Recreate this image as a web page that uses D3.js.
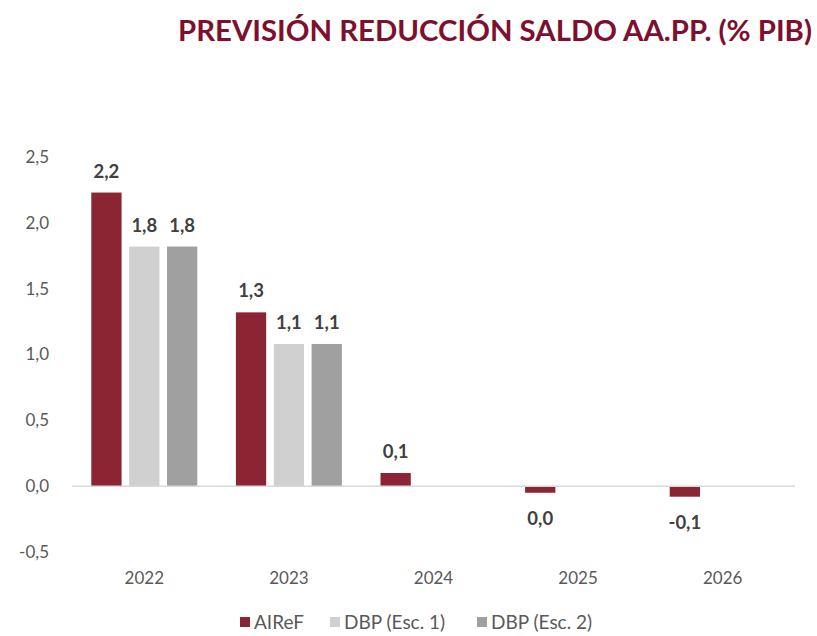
<!DOCTYPE html>
<html>
<head>
<meta charset="utf-8">
<script src="https://cdn.jsdelivr.net/npm/d3@7"></script>
<style>
  body { margin: 0; background: #fff; }
  svg { display: block; font-family: Lato, "Open Sans", sans-serif; }
</style>
</head>
<body>
<div id="chart"></div>
<script>
// Data
const years = ["2022", "2023", "2024", "2025", "2026"];
const seriesNames = ["AIReF", "DBP (Esc. 1)", "DBP (Esc. 2)"];
const colors = ["#8b2433", "#d0d0d0", "#a0a0a0"];
const airef = [2.23, 1.32, 0.10, -0.05, -0.08];
const dbp1 = [1.82, 1.08, null, null, null];
const dbp2 = [1.82, 1.08, null, null, null];
const labelsAiref = ["2,2", "1,3", "0,1", "0,0", "-0,1"];
const labelsDbp1 = ["1,8", "1,1", null, null, null];
const labelsDbp2 = ["1,8", "1,1", null, null, null];
const yTicks = [-0.5, 0, 0.5, 1, 1.5, 2, 2.5];

const series = [
  { name: seriesNames[0], values: airef, labels: labelsAiref },
  { name: seriesNames[1], values: dbp1, labels: labelsDbp1 },
  { name: seriesNames[2], values: dbp2, labels: labelsDbp2 },
];

const width = 817, height = 636;
const margin = { top: 157, right: 22, bottom: 84, left: 72 };

const svg = d3.select("#chart").append("svg")
  .attr("width", width)
  .attr("height", height);

// Title
svg.append("text")
  .attr("x", 812)
  .attr("y", 41)
  .attr("text-anchor", "end")
  .attr("fill", "#7d0f2f")
  .attr("font-size", 28)
  .attr("font-weight", 700)
  .attr("textLength", 634)
  .attr("lengthAdjust", "spacingAndGlyphs")
  .text("PREVISIÓN REDUCCIÓN SALDO AA.PP. (% PIB)");

// Scales
const x = d3.scaleBand()
  .domain(years)
  .range([margin.left, width - margin.right]);

const xSub = d3.scaleBand()
  .domain(seriesNames)
  .range([x.bandwidth() / 2 - 53, x.bandwidth() / 2 + 53])
  .paddingInner(0.2);

const y = d3.scaleLinear()
  .domain([-0.5, 2.5])
  .range([height - margin.bottom, margin.top]);

// Y axis labels
const gY = svg.append("g")
  .attr("transform", `translate(${margin.left - 20},0)`)
  .call(d3.axisLeft(y).tickValues(yTicks).tickSize(0)
    .tickFormat((d) => d3.format(".1f")(d).replace(".", ",").replace("−", "-")));
gY.select(".domain").remove();
gY.selectAll("text")
  .attr("fill", "#595959")
  .attr("font-size", 17)
  .attr("font-family", "Lato, 'Open Sans', sans-serif");

// Bars
const groups = svg.append("g").selectAll("g")
  .data(years)
  .join("g")
  .attr("transform", (d) => `translate(${x(d)},0)`);

groups.each(function (yr, i) {
  const g = d3.select(this);
  series.forEach((s, j) => {
    const v = s.values[i];
    if (v == null) return;
    g.append("rect")
      .attr("x", xSub(s.name))
      .attr("width", xSub.bandwidth())
      .attr("y", y(Math.max(0, v)))
      .attr("height", Math.abs(y(v) - y(0)))
      .attr("fill", colors[j]);
    g.append("text")
      .attr("x", xSub(s.name) + xSub.bandwidth() / 2)
      .attr("y", v >= 0 ? y(v) - 15 : y(v) + 32)
      .attr("text-anchor", "middle")
      .attr("fill", "#404040")
      .attr("font-size", 18.5)
      .attr("font-weight", 700)
      .text(s.labels[i]);
  });
});

// Zero line
svg.append("line")
  .attr("x1", margin.left)
  .attr("x2", width - margin.right)
  .attr("y1", y(0))
  .attr("y2", y(0))
  .attr("stroke", "#d9d9d9")
  .attr("stroke-width", 1.5);

// X axis labels
svg.append("g").selectAll("text")
  .data(years)
  .join("text")
  .attr("x", (d) => x(d) + x.bandwidth() / 2)
  .attr("y", 584)
  .attr("text-anchor", "middle")
  .attr("fill", "#595959")
  .attr("font-size", 17)
  .text((d) => d);

// Legend
const legendX = [240, 330, 477];
const legend = svg.append("g").selectAll("g")
  .data(seriesNames)
  .join("g")
  .attr("transform", (d, i) => `translate(${legendX[i]},617)`);
legend.append("rect")
  .attr("width", 10)
  .attr("height", 10)
  .attr("fill", (d, i) => colors[i]);
legend.append("text")
  .attr("x", 14)
  .attr("y", 12)
  .attr("fill", "#595959")
  .attr("font-size", 19)
  .text((d) => d);
</script>
</body>
</html>
